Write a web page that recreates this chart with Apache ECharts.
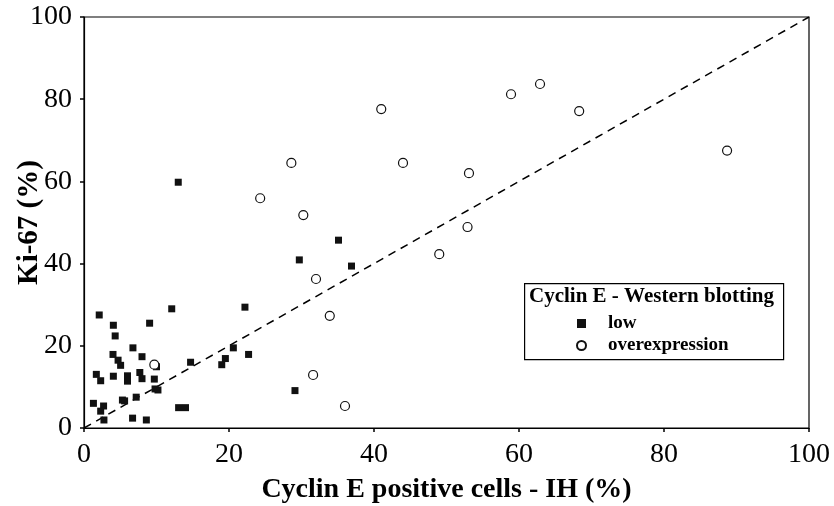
<!DOCTYPE html>
<html>
<head>
<meta charset="utf-8">
<script src="https://cdn.jsdelivr.net/npm/echarts@6/dist/echarts.min.js"></script>
<style>html,body{margin:0;padding:0;background:#fff}#c{width:834px;height:506px}</style>
</head>
<body>
<div id="c"></div>
<script>
var xTicks = [0, 20, 40, 60, 80, 100];
var yTicks = [0, 20, 40, 60, 80, 100];
var lowX = [2.1, 12.1, 4.05, 9.05, 4.3, 6.75, 4.0, 8.0, 4.7, 5.05, 10.0, 7.7, 1.7, 2.3, 4.05, 6.0, 6.0, 8.0, 9.7, 9.8, 10.2, 1.3, 5.3, 5.6, 7.2, 2.7, 2.3, 2.75, 6.7, 8.6,
            22.2, 20.6, 22.7, 14.7, 19.5, 19.0, 13.05, 14.0, 13.0, 35.1, 29.7, 36.9, 29.1];
var lowY = [27.5, 29.0, 25.0, 25.5, 22.4, 19.5, 17.9, 17.35, 16.5, 15.25, 14.9, 13.5, 13.05, 11.5, 12.6, 12.7, 11.4, 12.0, 11.9, 9.5, 9.25, 6.0, 6.8, 6.6, 7.5, 5.35, 4.1, 1.95, 2.4, 1.95,
            29.4, 19.5, 17.9, 16.0, 16.9, 15.4, 4.95, 4.95, 59.8, 45.7, 40.9, 39.4, 9.1];
var overX = [58.9, 62.9, 68.3, 88.7, 41.0, 28.6, 44.0, 53.1, 24.3, 30.25, 52.9, 49.0, 32.0, 33.9, 31.6, 36.0, 9.7];
var overY = [81.2, 83.7, 77.1, 67.5, 77.6, 64.5, 64.5, 62.0, 55.9, 51.8, 48.9, 42.3, 36.25, 27.3, 12.9, 5.35, 15.4];
var diagX = [0, 100];
var diagY = [0, 100];
var legendTitle = 'Cyclin E - Western blotting';
var lowName = 'low';
var overName = 'overexpression';

function pairs(xs, ys) { return xs.map(function (x, i) { return [x, ys[i]]; }); }

var serif = '"Liberation Serif", "Times New Roman", serif';
var chart = echarts.init(document.getElementById('c'), null, { renderer: 'canvas' });
chart.setOption({
  backgroundColor: '#ffffff',
  animation: false,
  grid: { left: 84, right: 25, top: 17, bottom: 78, containLabel: false, outerBoundsMode: 'none', show: true, borderColor: '#000', borderWidth: 1.2, backgroundColor: 'transparent' },
  xAxis: {
    type: 'value', min: xTicks[0], max: xTicks[xTicks.length - 1], interval: 20,
    name: 'Cyclin E positive cells - IH (%)', nameLocation: 'middle', nameGap: 48, nameMoveOverlap: false,
    nameTextStyle: { fontFamily: serif, fontWeight: 'bold', fontSize: 28, color: '#000' },
    axisLine: { show: true, lineStyle: { color: '#000', width: 1.2 } },
    axisTick: { show: true, length: 4, lineStyle: { color: '#000', width: 1.5 } },
    axisLabel: { fontFamily: serif, fontSize: 28, color: '#000', margin: 13 },
    splitLine: { show: false }
  },
  yAxis: {
    type: 'value', min: yTicks[0], max: yTicks[yTicks.length - 1], interval: 20,
    name: 'Ki-67 (%)', nameLocation: 'middle', nameGap: 40, nameRotate: 90, nameMoveOverlap: false,
    nameTextStyle: { fontFamily: serif, fontWeight: 'bold', fontSize: 29, color: '#000' },
    axisLine: { show: true, lineStyle: { color: '#000', width: 1.2 } },
    axisTick: { show: true, length: 4, lineStyle: { color: '#000', width: 1.5 } },
    axisLabel: { fontFamily: serif, fontSize: 28, color: '#000', margin: 12 },
    splitLine: { show: false }
  },
  legend: {
    show: true, orient: 'vertical', left: 571, top: 309,
    itemWidth: 9, itemHeight: 9, itemGap: 3,
    data: [lowName, overName],
    textStyle: { fontFamily: serif, fontWeight: 'bold', fontSize: 19, color: '#000', padding: [0, 0, 0, 17] }
  },
  graphic: [
    { type: 'rect', left: 524, top: 283, shape: { width: 259, height: 76 }, style: { fill: '#fff', stroke: '#000', lineWidth: 1.2 }, z: 0 },
    { type: 'text', left: 529, top: 286, style: { text: legendTitle, font: 'bold 21px ' + serif, fill: '#000' }, z: 1 }
  ],
  series: [
    {
      type: 'line', data: pairs(diagX, diagY), showSymbol: false, symbol: 'none', silent: true,
      lineStyle: { color: '#000', width: 1.5, type: [8, 6] }, z: 1
    },
    {
      name: lowName, type: 'scatter', data: pairs(lowX, lowY), symbol: 'rect', symbolSize: 7,
      itemStyle: { color: '#111', opacity: 1 }, z: 3
    },
    {
      name: overName, type: 'scatter', data: pairs(overX, overY), symbol: 'circle', symbolSize: 9,
      itemStyle: { color: '#fff', borderColor: '#111', borderWidth: 1.2, opacity: 1 }, z: 3
    }
  ]
});
</script>
</body>
</html>
